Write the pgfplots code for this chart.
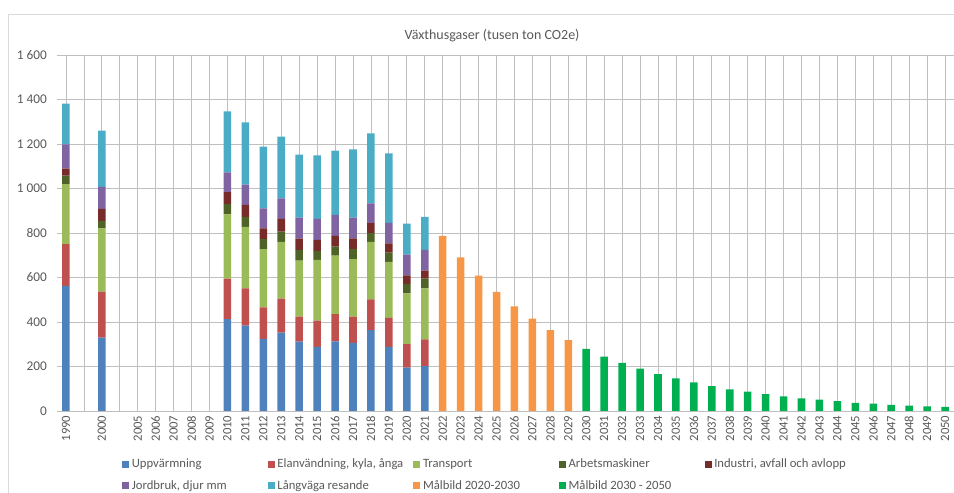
\documentclass[border=0pt]{standalone}
\usepackage{pgfplots}
\pgfplotsset{compat=1.18}
\usepackage{pgfplotstable}
\usepackage{fontspec}
\setmainfont{Carlito}

\definecolor{cUpp}{HTML}{4F81BD}
\definecolor{cEl}{HTML}{C0504D}
\definecolor{cTr}{HTML}{9BBB59}
\definecolor{cArb}{HTML}{4F6228}
\definecolor{cInd}{HTML}{772C2A}
\definecolor{cJo}{HTML}{8064A2}
\definecolor{cLa}{HTML}{4BACC6}
\definecolor{cMA}{HTML}{F79646}
\definecolor{cMB}{HTML}{00B050}
\definecolor{txt}{HTML}{595959}
\definecolor{grid}{HTML}{D9D9D9}

% x: 0=1990, 2=2000, 4=2005 ... 49=2050
\pgfplotstableread{
x  up  el  tr  ar  in  jo  la  mA  mB
0  562 188 270 38  31  109 183 0   0
2  330 206 285 34  53  99  253 0   0
9  413 182 289 46  54  89  274 0   0
10 384 167 276 46  53  91  280 0   0
11 324 142 261 45  49  90  277 0   0
12 352 153 255 46  57  93  277 0   0
13 312 112 252 48  51  94  283 0   0
14 288 118 273 40  50  94  286 0   0
15 313 122 263 41  48  94  289 0   0
16 306 118 259 44  49  93  307 0   0
17 364 138 258 39  45  89  315 0   0
18 288 130 252 42  41  93  312 0   0
19 195 106 228 42  39  93  139 0   0
20 202 120 229 44  36  93  148 0   0
21 0   0   0   0   0   0   0   787 0
22 0   0   0   0   0   0   0   691 0
23 0   0   0   0   0   0   0   608 0
24 0   0   0   0   0   0   0   535 0
25 0   0   0   0   0   0   0   470 0
26 0   0   0   0   0   0   0   415 0
27 0   0   0   0   0   0   0   364 0
28 0   0   0   0   0   0   0   319 0
29 0   0   0   0   0   0   0   0   279
30 0   0   0   0   0   0   0   0   244
31 0   0   0   0   0   0   0   0   216
32 0   0   0   0   0   0   0   0   190
33 0   0   0   0   0   0   0   0   166
34 0   0   0   0   0   0   0   0   147
35 0   0   0   0   0   0   0   0   129
36 0   0   0   0   0   0   0   0   112
37 0   0   0   0   0   0   0   0   97
38 0   0   0   0   0   0   0   0   87
39 0   0   0   0   0   0   0   0   76
40 0   0   0   0   0   0   0   0   66
41 0   0   0   0   0   0   0   0   57
42 0   0   0   0   0   0   0   0   51
43 0   0   0   0   0   0   0   0   44
44 0   0   0   0   0   0   0   0   37
45 0   0   0   0   0   0   0   0   33
46 0   0   0   0   0   0   0   0   27
47 0   0   0   0   0   0   0   0   24
48 0   0   0   0   0   0   0   0   21
49 0   0   0   0   0   0   0   0   18
}\data

\newcommand{\lgent}[1]{\makebox[100pt][l]{#1}}

\begin{document}
\begin{tikzpicture}
\path[use as bounding box] (0,0) rectangle (715.5pt,369.75pt);
\draw[grid] (6pt,-5pt) rectangle (720pt,359.25pt);
\begin{axis}[
    at={(42.75pt,61.5pt)}, anchor=south west,
    scale only axis,
    width=672.75pt, height=267pt,
    ybar stacked,
    bar width=0.42,
    xmin=-0.5, xmax=49.5,
    ymin=0, ymax=1600,
    ytick={0,200,...,1600},
    xtick={0,...,49},
    xticklabels={1990,{},2000,{},2005,2006,2007,2008,2009,2010,2011,2012,2013,2014,2015,2016,2017,2018,2019,2020,2021,2022,2023,2024,2025,2026,2027,2028,2029,2030,2031,2032,2033,2034,2035,2036,2037,2038,2039,2040,2041,2042,2043,2044,2045,2046,2047,2048,2049,2050},
    major tick length=0pt,
    axis line style={draw=none},
    ymajorgrids,
    grid style={grid, line width=0.6pt},
    /pgf/number format/assume math mode=true,
    /pgf/number format/1000 sep={\ },
    yticklabel style={font=\fontsize{10}{12}\selectfont, text=txt, xshift=-4pt},
    xticklabel style={font=\fontsize{9.5}{11}\selectfont, text=txt, rotate=90, anchor=east},
    title={Växthusgaser (tusen ton CO2e)},
    title style={font=\fontsize{10.5}{12}\selectfont, text=txt, at={(0.485,1.032)}, anchor=center},
    legend columns=5,
    legend style={at={(0.068,-0.118)}, anchor=north west, draw=none, fill=none,
        font=\fontsize{9.5}{11}\selectfont, text=txt, row sep=4pt,
        /tikz/every even column/.append style={column sep=0pt}},
    legend cell align=left,
    legend image code/.code={\fill[#1] (0pt,-2.6pt) rectangle (5.2pt,2.6pt);},
]
\addplot[fill=cUpp, draw=none] table[x=x, y=up] {\data};
\addplot[fill=cEl,  draw=none] table[x=x, y=el] {\data};
\addplot[fill=cTr,  draw=none] table[x=x, y=tr] {\data};
\addplot[fill=cArb, draw=none] table[x=x, y=ar] {\data};
\addplot[fill=cInd, draw=none] table[x=x, y=in] {\data};
\addplot[fill=cJo,  draw=none] table[x=x, y=jo] {\data};
\addplot[fill=cLa,  draw=none] table[x=x, y=la] {\data};
\addplot[fill=cMA,  draw=none] table[x=x, y=mA] {\data};
\addplot[fill=cMB,  draw=none] table[x=x, y=mB] {\data};
\legend{\lgent{Uppvärmning},\lgent{Elanvändning, kyla, ånga},\lgent{Transport},\lgent{Arbetsmaskiner},\lgent{Industri, avfall och avlopp},
        \lgent{Jordbruk, djur mm},\lgent{Långväga resande},\lgent{Målbild 2020-2030},\lgent{Målbild 2030 - 2050}}
\end{axis}
\end{tikzpicture}
\end{document}
